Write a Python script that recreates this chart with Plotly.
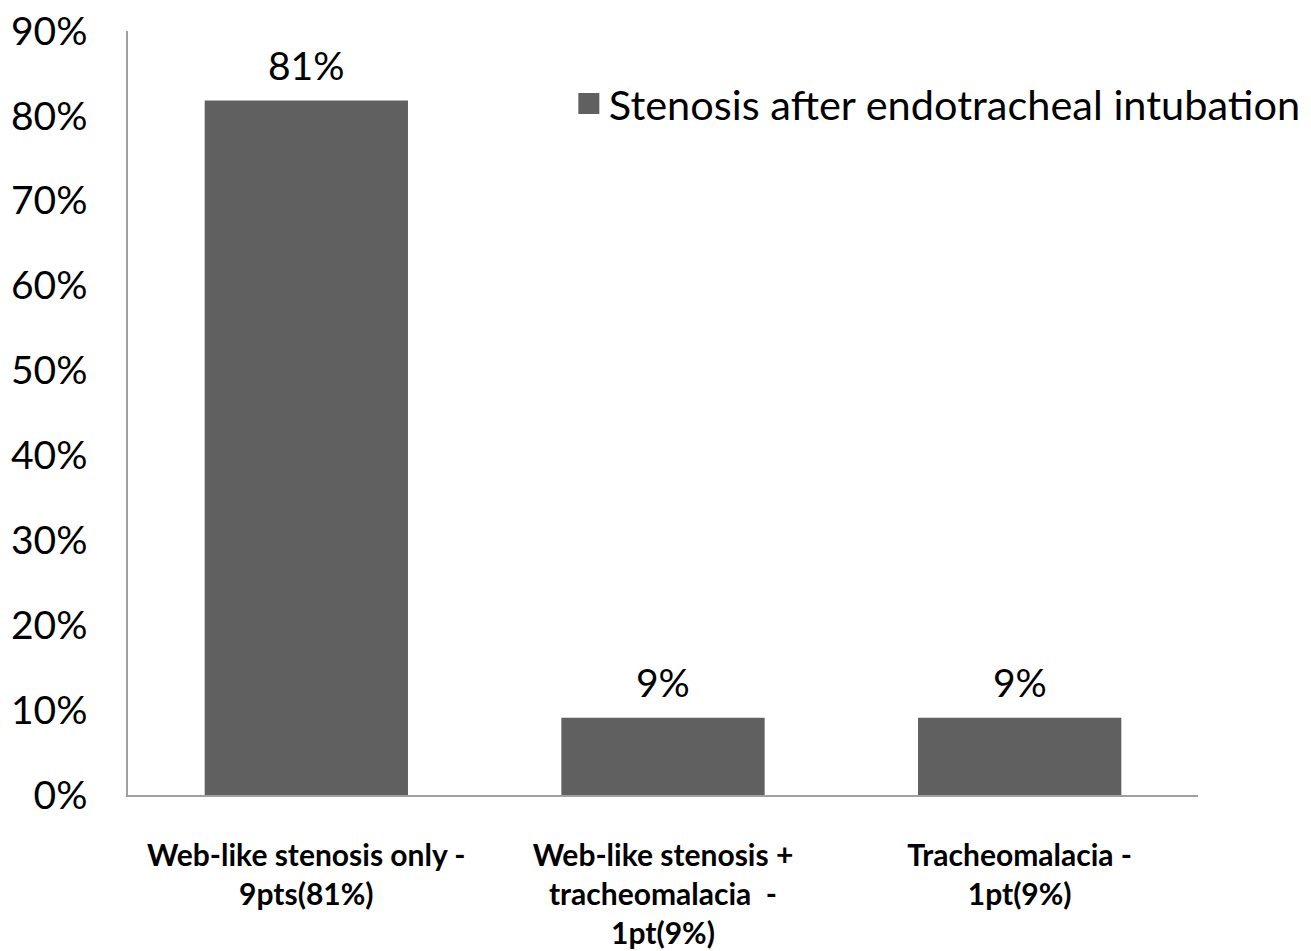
import plotly.graph_objects as go

categories = [
    "<b>Web-like stenosis only -<br>9pts(81%)</b>",
    "<b>Web-like stenosis +<br>tracheomalacia  -<br>1pt(9%)</b>",
    "<b>Tracheomalacia -<br>1pt(9%)</b>",
]
values = [0.818, 0.091, 0.091]
value_labels = ["81%", "9%", "9%"]
series_name = "Stenosis after endotracheal intubation"
tick_vals = [0, 0.1, 0.2, 0.3, 0.4, 0.5, 0.6, 0.7, 0.8, 0.9]
tick_text = ["0%", "10%", "20%", "30%", "40%", "50%", "60%", "70%", "80%", "90%"]

BAR = "#606060"
FONT = "Lato, Open Sans, sans-serif"

fig = go.Figure()
fig.add_trace(go.Bar(x=categories, y=values, marker=dict(color=BAR, line=dict(width=0)),
                     showlegend=False, hoverinfo="skip"))
fig.add_trace(go.Scatter(x=[None], y=[None], mode="markers", name=series_name,
                         marker=dict(symbol="square", size=16, color=BAR,
                                     line=dict(color=BAR, width=5))))

for c, v, t in zip(categories, values, value_labels):
    fig.add_annotation(x=c, y=v, text=t, showarrow=False, yanchor="middle", yshift=36,
                       font=dict(family=FONT, size=39, color="black"))

fig.update_layout(
    width=1311, height=951,
    margin=dict(l=128, r=113, t=31, b=156, autoexpand=False),
    paper_bgcolor="white", plot_bgcolor="white",
    font=dict(family=FONT, color="black"),
    bargap=0.43,
    legend=dict(x=0.412, y=0.905, xanchor="left", yanchor="middle",
                font=dict(family=FONT, size=41.5, color="black"),
                bgcolor="rgba(0,0,0,0)", itemclick=False),
)
fig.update_xaxes(showline=True, linecolor="#a0a0a0", linewidth=1.5, showgrid=False,
                 ticks="", tickfont=dict(family=FONT, size=30, color="black"),
                 ticklabelstandoff=33, automargin=False, ticklabeloverflow="allow")
fig.update_yaxes(range=[0, 0.9], tickvals=tick_vals, ticktext=tick_text,
                 showline=True, linecolor="#a0a0a0", linewidth=1.5, showgrid=False,
                 zeroline=False, ticks="", tickfont=dict(family=FONT, size=39, color="black"),
                 ticklabelstandoff=31, automargin=False, ticklabeloverflow="allow")

fig.write_html("out.html", config={"displayModeBar": False},
               post_script="document.body.style.margin='0';document.body.style.overflow='hidden';")
